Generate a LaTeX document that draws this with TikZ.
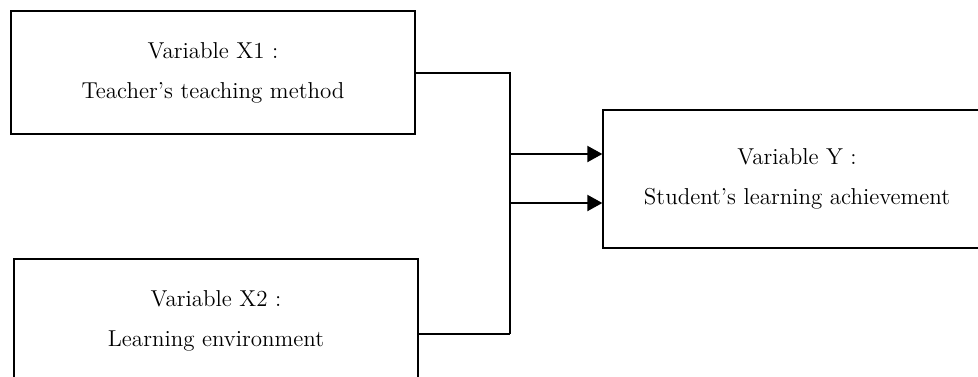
\documentclass[tikz,border=0pt]{standalone}
\usetikzlibrary{arrows.meta}
\begin{document}
\begin{tikzpicture}[x=0.5pt,y=-0.5pt,
  varbox/.style={draw, line width=0.65pt, minimum width=202pt, minimum height=61.5pt,
    align=center, inner sep=0pt, font=\fontsize{11.5}{20}\selectfont},
  link/.style={line width=1pt},
  flow/.style={link, -{Triangle[length=7.5pt,width=8pt]}}]
  \useasboundingbox (0,0) rectangle (978,376);

  % Define nodes
  \node[varbox] (x1) at (213,72.5) {Variable X1~:\\Teacher's teaching method};
  \node[varbox] (x2) at (216,320.5) {Variable X2~:\\Learning environment};
  \node[varbox, minimum width=194pt, minimum height=69pt] (y) at (797,179)
    {Variable Y~:\\Student's learning achievement};
  \coordinate (bus) at (510,334);
  \coordinate (in1) at ([yshift=12.5pt]y.west);
  \coordinate (in2) at ([yshift=-12pt]y.west);

  % Connect the nodes
  \draw[link] (x1.east) -| (bus);
  \draw[link] ([yshift=-6.75pt]x2.east) -- (bus);
  \draw[flow] (bus |- in1) -- (in1);
  \draw[flow] (bus |- in2) -- (in2);

\end{tikzpicture}
\end{document}
